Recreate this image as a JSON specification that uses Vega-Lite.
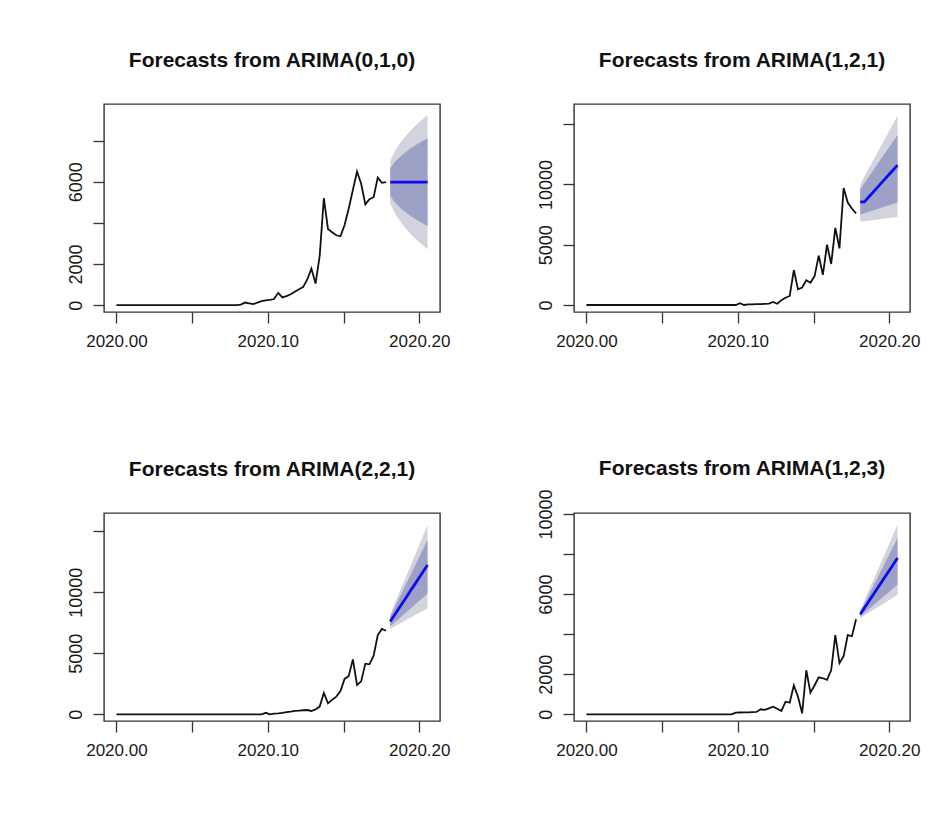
{
"$schema": "https://vega.github.io/schema/vega-lite/v6.json",
"background": "white",
"padding": {"left": 66, "top": 49, "right": 5, "bottom": 5},
"config": {
  "font": "Liberation Sans",
  "view": {"stroke": "#333", "strokeWidth": 1.4},
  "axis": {"grid": false, "domain": false, "ticks": true, "tickSize": 11, "tickColor": "#333", "tickWidth": 1.3, "labelFont": "Liberation Sans", "labelColor": "#1a1a1a", "labelFontSize": 17, "titleFontSize": 0},
  "axisX": {"labelPadding": 10},
  "axisY": {"labelAngle": -90, "labelPadding": 8, "labelFontSize": 18},
  "title": {"font": "Liberation Sans", "fontSize": 21, "fontWeight": "bold", "color": "#111", "anchor": "middle", "baseline": "alphabetic", "offset": 33}
},
"datasets": {
  "h1": [{"t":2020,"v":0},{"t":2020.07945,"v":0},{"t":2020.08219,"v":30},{"t":2020.08493,"v":130},{"t":2020.08767,"v":90},{"t":2020.09041,"v":50},{"t":2020.09315,"v":130},{"t":2020.09589,"v":200},{"t":2020.09863,"v":240},{"t":2020.10137,"v":260},{"t":2020.10411,"v":300},{"t":2020.10685,"v":600},{"t":2020.10959,"v":380},{"t":2020.11233,"v":440},{"t":2020.11507,"v":530},{"t":2020.11781,"v":650},{"t":2020.12055,"v":780},{"t":2020.12329,"v":880},{"t":2020.12603,"v":1250},{"t":2020.12877,"v":1780},{"t":2020.13151,"v":1050},{"t":2020.13425,"v":2400},{"t":2020.13699,"v":5200},{"t":2020.13973,"v":3700},{"t":2020.14247,"v":3550},{"t":2020.14521,"v":3400},{"t":2020.14795,"v":3350},{"t":2020.15068,"v":3900},{"t":2020.15342,"v":4700},{"t":2020.15616,"v":5600},{"t":2020.1589,"v":6500},{"t":2020.16164,"v":5900},{"t":2020.16438,"v":4900},{"t":2020.16712,"v":5150},{"t":2020.16986,"v":5250},{"t":2020.1726,"v":6200},{"t":2020.17534,"v":5950},{"t":2020.17808,"v":5980}],
  "f1": [
    {"t":2020.18082,"m":5980,"lo80":5306,"hi80":6654,"lo95":4949,"hi95":7011},
    {"t":2020.18356,"m":5980,"lo80":5027,"hi80":6933,"lo95":4522,"hi95":7438},
    {"t":2020.1863,"m":5980,"lo80":4812,"hi80":7148,"lo95":4194,"hi95":7766},
    {"t":2020.18904,"m":5980,"lo80":4632,"hi80":7328,"lo95":3918,"hi95":8042},
    {"t":2020.19178,"m":5980,"lo80":4473,"hi80":7487,"lo95":3675,"hi95":8285},
    {"t":2020.19452,"m":5980,"lo80":4329,"hi80":7631,"lo95":3455,"hi95":8505},
    {"t":2020.19726,"m":5980,"lo80":4197,"hi80":7763,"lo95":3252,"hi95":8708},
    {"t":2020.2,"m":5980,"lo80":4073,"hi80":7887,"lo95":3064,"hi95":8896},
    {"t":2020.20274,"m":5980,"lo80":3958,"hi80":8002,"lo95":2887,"hi95":9073},
    {"t":2020.20548,"m":5980,"lo80":3848,"hi80":8112,"lo95":2720,"hi95":9240}],
  "h2": [{"t":2020,"v":0},{"t":2020.09863,"v":0},{"t":2020.10137,"v":150},{"t":2020.10411,"v":0},{"t":2020.10685,"v":50},{"t":2020.10959,"v":60},{"t":2020.11233,"v":70},{"t":2020.11507,"v":80},{"t":2020.11781,"v":90},{"t":2020.12055,"v":120},{"t":2020.12329,"v":250},{"t":2020.12603,"v":100},{"t":2020.12877,"v":400},{"t":2020.13151,"v":600},{"t":2020.13425,"v":750},{"t":2020.13699,"v":2900},{"t":2020.13973,"v":1300},{"t":2020.14247,"v":1450},{"t":2020.14521,"v":2050},{"t":2020.14795,"v":1850},{"t":2020.15068,"v":2400},{"t":2020.15342,"v":4100},{"t":2020.15616,"v":2500},{"t":2020.1589,"v":5000},{"t":2020.16164,"v":3400},{"t":2020.16438,"v":6400},{"t":2020.16712,"v":4700},{"t":2020.16986,"v":9700},{"t":2020.1726,"v":8500},{"t":2020.17534,"v":8000},{"t":2020.17808,"v":7600}],
  "f2": [
    {"t":2020.18082,"m":8550,"lo80":7500,"hi80":9600,"lo95":6900,"hi95":10000},
    {"t":2020.18356,"m":8550,"lo80":7610,"hi80":10100,"lo95":6940,"hi95":10630},
    {"t":2020.1863,"m":8930,"lo80":7720,"hi80":10600,"lo95":6990,"hi95":11270},
    {"t":2020.18904,"m":9310,"lo80":7830,"hi80":11100,"lo95":7030,"hi95":11900},
    {"t":2020.19178,"m":9690,"lo80":7940,"hi80":11600,"lo95":7080,"hi95":12530},
    {"t":2020.19452,"m":10080,"lo80":8060,"hi80":12100,"lo95":7120,"hi95":13170},
    {"t":2020.19726,"m":10460,"lo80":8170,"hi80":12600,"lo95":7170,"hi95":13800},
    {"t":2020.2,"m":10840,"lo80":8280,"hi80":13100,"lo95":7210,"hi95":14430},
    {"t":2020.20274,"m":11220,"lo80":8390,"hi80":13600,"lo95":7260,"hi95":15070},
    {"t":2020.20548,"m":11600,"lo80":8500,"hi80":14100,"lo95":7300,"hi95":15700}],
  "h3": [{"t":2020,"v":0},{"t":2020.09589,"v":0},{"t":2020.09863,"v":120},{"t":2020.10137,"v":0},{"t":2020.10411,"v":50},{"t":2020.10685,"v":80},{"t":2020.10959,"v":120},{"t":2020.11233,"v":180},{"t":2020.11507,"v":220},{"t":2020.11781,"v":280},{"t":2020.12055,"v":300},{"t":2020.12329,"v":330},{"t":2020.12603,"v":350},{"t":2020.12877,"v":270},{"t":2020.13151,"v":400},{"t":2020.13425,"v":630},{"t":2020.13699,"v":1750},{"t":2020.13973,"v":900},{"t":2020.14247,"v":1200},{"t":2020.14521,"v":1450},{"t":2020.14795,"v":1900},{"t":2020.15068,"v":2900},{"t":2020.15342,"v":3150},{"t":2020.15616,"v":4500},{"t":2020.1589,"v":2400},{"t":2020.16164,"v":2700},{"t":2020.16438,"v":4150},{"t":2020.16712,"v":4100},{"t":2020.16986,"v":4800},{"t":2020.1726,"v":6500},{"t":2020.17534,"v":7000},{"t":2020.17808,"v":6850}],
  "f3": [
    {"t":2020.18082,"m":7600,"lo80":7200,"hi80":8000,"lo95":7000,"hi95":8200},
    {"t":2020.18356,"m":8120,"lo80":7500,"hi80":8700,"lo95":7190,"hi95":9010},
    {"t":2020.1863,"m":8630,"lo80":7800,"hi80":9400,"lo95":7380,"hi95":9820},
    {"t":2020.18904,"m":9150,"lo80":8100,"hi80":10100,"lo95":7570,"hi95":10630},
    {"t":2020.19178,"m":9660,"lo80":8400,"hi80":10800,"lo95":7760,"hi95":11440},
    {"t":2020.19452,"m":10180,"lo80":8700,"hi80":11500,"lo95":7940,"hi95":12260},
    {"t":2020.19726,"m":10690,"lo80":9000,"hi80":12200,"lo95":8130,"hi95":13070},
    {"t":2020.2,"m":11210,"lo80":9300,"hi80":12900,"lo95":8320,"hi95":13880},
    {"t":2020.20274,"m":11720,"lo80":9600,"hi80":13600,"lo95":8510,"hi95":14690},
    {"t":2020.20548,"m":12240,"lo80":9900,"hi80":14300,"lo95":8700,"hi95":15500}],
  "h4": [{"t":2020,"v":0},{"t":2020.09589,"v":0},{"t":2020.09863,"v":80},{"t":2020.10137,"v":90},{"t":2020.10411,"v":100},{"t":2020.10685,"v":100},{"t":2020.10959,"v":110},{"t":2020.11233,"v":120},{"t":2020.11507,"v":250},{"t":2020.11781,"v":220},{"t":2020.12055,"v":300},{"t":2020.12329,"v":380},{"t":2020.12603,"v":280},{"t":2020.12877,"v":170},{"t":2020.13151,"v":630},{"t":2020.13425,"v":580},{"t":2020.13699,"v":1450},{"t":2020.13973,"v":880},{"t":2020.14247,"v":50},{"t":2020.14521,"v":2200},{"t":2020.14795,"v":1080},{"t":2020.15068,"v":1450},{"t":2020.15342,"v":1850},{"t":2020.15616,"v":1800},{"t":2020.1589,"v":1720},{"t":2020.16164,"v":2200},{"t":2020.16438,"v":3950},{"t":2020.16712,"v":2550},{"t":2020.16986,"v":2900},{"t":2020.1726,"v":3950},{"t":2020.17534,"v":3900},{"t":2020.17808,"v":4750}],
  "f4": [
    {"t":2020.18082,"m":5000,"lo80":4900,"hi80":5100,"lo95":4800,"hi95":5200},
    {"t":2020.18356,"m":5310,"lo80":5070,"hi80":5510,"lo95":4930,"hi95":5670},
    {"t":2020.1863,"m":5620,"lo80":5250,"hi80":5920,"lo95":5060,"hi95":6150},
    {"t":2020.18904,"m":5930,"lo80":5420,"hi80":6330,"lo95":5190,"hi95":6620},
    {"t":2020.19178,"m":6240,"lo80":5600,"hi80":6740,"lo95":5320,"hi95":7100},
    {"t":2020.19452,"m":6560,"lo80":5770,"hi80":7160,"lo95":5450,"hi95":7570},
    {"t":2020.19726,"m":6870,"lo80":5950,"hi80":7570,"lo95":5580,"hi95":8050},
    {"t":2020.2,"m":7180,"lo80":6120,"hi80":7980,"lo95":5710,"hi95":8520},
    {"t":2020.20274,"m":7490,"lo80":6300,"hi80":8390,"lo95":5840,"hi95":9000},
    {"t":2020.20548,"m":7800,"lo80":6470,"hi80":8800,"lo95":5970,"hi95":9470}]
},
"columns": 2,
"spacing": {"row": 201, "column": 134},
"bounds": "flush",
"concat": [
  {"title": "Forecasts from ARIMA(0,1,0)", "width": 336, "height": 208,
   "layer": [
    {"data": {"name": "f1"}, "mark": {"type": "area", "color": "#D2D3DD", "opacity": 1},
     "encoding": {
      "x": {"field": "t", "type": "quantitative", "scale": {"domain": [2019.9918, 2020.2137], "nice": false, "zero": false}, "axis": {"title": null, "values": [2020, 2020.05, 2020.1, 2020.15, 2020.2], "format": ".2f", "labelExpr": "(abs(datum.value-2020.05)<0.001 || abs(datum.value-2020.15)<0.001) ? '' : datum.label"}},
      "y": {"field": "lo95", "type": "quantitative", "scale": {"domain": [-330, 9780], "nice": false, "zero": false}, "axis": {"title": null, "values": [0, 2000, 4000, 6000, 8000], "labelExpr": "(datum.value==4000 || datum.value==8000) ? '' : datum.value + ''"}},
      "y2": {"field": "hi95"}}},
    {"data": {"name": "f1"}, "mark": {"type": "area", "color": "#9DA1C6", "opacity": 1},
     "encoding": {"x": {"field": "t", "type": "quantitative", "axis": {"title": null}}, "y": {"field": "lo80", "type": "quantitative", "axis": {"title": null}}, "y2": {"field": "hi80"}}},
    {"data": {"name": "h1"}, "mark": {"type": "line", "color": "#111", "strokeWidth": 1.8},
     "encoding": {"x": {"field": "t", "type": "quantitative", "axis": {"title": null}}, "y": {"field": "v", "type": "quantitative", "axis": {"title": null}}}},
    {"data": {"name": "f1"}, "mark": {"type": "line", "color": "#0C0CEE", "strokeWidth": 2.8},
     "encoding": {"x": {"field": "t", "type": "quantitative", "axis": {"title": null}}, "y": {"field": "m", "type": "quantitative", "axis": {"title": null}}}}
   ]},
  {"title": "Forecasts from ARIMA(1,2,1)", "width": 336, "height": 208,
   "layer": [
    {"data": {"name": "f2"}, "mark": {"type": "area", "color": "#D2D3DD", "opacity": 1},
     "encoding": {
      "x": {"field": "t", "type": "quantitative", "scale": {"domain": [2019.9918, 2020.2137], "nice": false, "zero": false}, "axis": {"title": null, "values": [2020, 2020.05, 2020.1, 2020.15, 2020.2], "format": ".2f", "labelExpr": "(abs(datum.value-2020.05)<0.001 || abs(datum.value-2020.15)<0.001) ? '' : datum.label"}},
      "y": {"field": "lo95", "type": "quantitative", "scale": {"domain": [-580, 16667], "nice": false, "zero": false}, "axis": {"title": null, "values": [0, 5000, 10000, 15000], "labelExpr": "(datum.value==15000) ? '' : datum.value + ''"}},
      "y2": {"field": "hi95"}}},
    {"data": {"name": "f2"}, "mark": {"type": "area", "color": "#9DA1C6", "opacity": 1},
     "encoding": {"x": {"field": "t", "type": "quantitative", "axis": {"title": null}}, "y": {"field": "lo80", "type": "quantitative", "axis": {"title": null}}, "y2": {"field": "hi80"}}},
    {"data": {"name": "h2"}, "mark": {"type": "line", "color": "#111", "strokeWidth": 1.8},
     "encoding": {"x": {"field": "t", "type": "quantitative", "axis": {"title": null}}, "y": {"field": "v", "type": "quantitative", "axis": {"title": null}}}},
    {"data": {"name": "f2"}, "mark": {"type": "line", "color": "#0C0CEE", "strokeWidth": 2.8},
     "encoding": {"x": {"field": "t", "type": "quantitative", "axis": {"title": null}}, "y": {"field": "m", "type": "quantitative", "axis": {"title": null}}}}
   ]},
  {"title": "Forecasts from ARIMA(2,2,1)", "width": 336, "height": 208,
   "layer": [
    {"data": {"name": "f3"}, "mark": {"type": "area", "color": "#D2D3DD", "opacity": 1},
     "encoding": {
      "x": {"field": "t", "type": "quantitative", "scale": {"domain": [2019.9918, 2020.2137], "nice": false, "zero": false}, "axis": {"title": null, "values": [2020, 2020.05, 2020.1, 2020.15, 2020.2], "format": ".2f", "labelExpr": "(abs(datum.value-2020.05)<0.001 || abs(datum.value-2020.15)<0.001) ? '' : datum.label"}},
      "y": {"field": "lo95", "type": "quantitative", "scale": {"domain": [-550, 16500], "nice": false, "zero": false}, "axis": {"title": null, "values": [0, 5000, 10000, 15000], "labelExpr": "(datum.value==15000) ? '' : datum.value + ''"}},
      "y2": {"field": "hi95"}}},
    {"data": {"name": "f3"}, "mark": {"type": "area", "color": "#9DA1C6", "opacity": 1},
     "encoding": {"x": {"field": "t", "type": "quantitative", "axis": {"title": null}}, "y": {"field": "lo80", "type": "quantitative", "axis": {"title": null}}, "y2": {"field": "hi80"}}},
    {"data": {"name": "h3"}, "mark": {"type": "line", "color": "#111", "strokeWidth": 1.8},
     "encoding": {"x": {"field": "t", "type": "quantitative", "axis": {"title": null}}, "y": {"field": "v", "type": "quantitative", "axis": {"title": null}}}},
    {"data": {"name": "f3"}, "mark": {"type": "line", "color": "#0C0CEE", "strokeWidth": 2.8},
     "encoding": {"x": {"field": "t", "type": "quantitative", "axis": {"title": null}}, "y": {"field": "m", "type": "quantitative", "axis": {"title": null}}}}
   ]},
  {"title": {"text": "Forecasts from ARIMA(1,2,3)", "offset": 10}, "width": 336, "height": 208,
   "layer": [
    {"data": {"name": "f4"}, "mark": {"type": "area", "color": "#D2D3DD", "opacity": 1},
     "encoding": {
      "x": {"field": "t", "type": "quantitative", "scale": {"domain": [2019.9918, 2020.2137], "nice": false, "zero": false}, "axis": {"title": null, "values": [2020, 2020.05, 2020.1, 2020.15, 2020.2], "format": ".2f", "labelExpr": "(abs(datum.value-2020.05)<0.001 || abs(datum.value-2020.15)<0.001) ? '' : datum.label"}},
      "y": {"field": "lo95", "type": "quantitative", "scale": {"domain": [-334, 10050], "nice": false, "zero": false}, "axis": {"title": null, "values": [0, 2000, 4000, 6000, 8000, 10000], "labelExpr": "(datum.value==4000 || datum.value==8000) ? '' : datum.value + ''"}},
      "y2": {"field": "hi95"}}},
    {"data": {"name": "f4"}, "mark": {"type": "area", "color": "#9DA1C6", "opacity": 1},
     "encoding": {"x": {"field": "t", "type": "quantitative", "axis": {"title": null}}, "y": {"field": "lo80", "type": "quantitative", "axis": {"title": null}}, "y2": {"field": "hi80"}}},
    {"data": {"name": "h4"}, "mark": {"type": "line", "color": "#111", "strokeWidth": 1.8},
     "encoding": {"x": {"field": "t", "type": "quantitative", "axis": {"title": null}}, "y": {"field": "v", "type": "quantitative", "axis": {"title": null}}}},
    {"data": {"name": "f4"}, "mark": {"type": "line", "color": "#0C0CEE", "strokeWidth": 2.8},
     "encoding": {"x": {"field": "t", "type": "quantitative", "axis": {"title": null}}, "y": {"field": "m", "type": "quantitative", "axis": {"title": null}}}}
   ]}
]
}
